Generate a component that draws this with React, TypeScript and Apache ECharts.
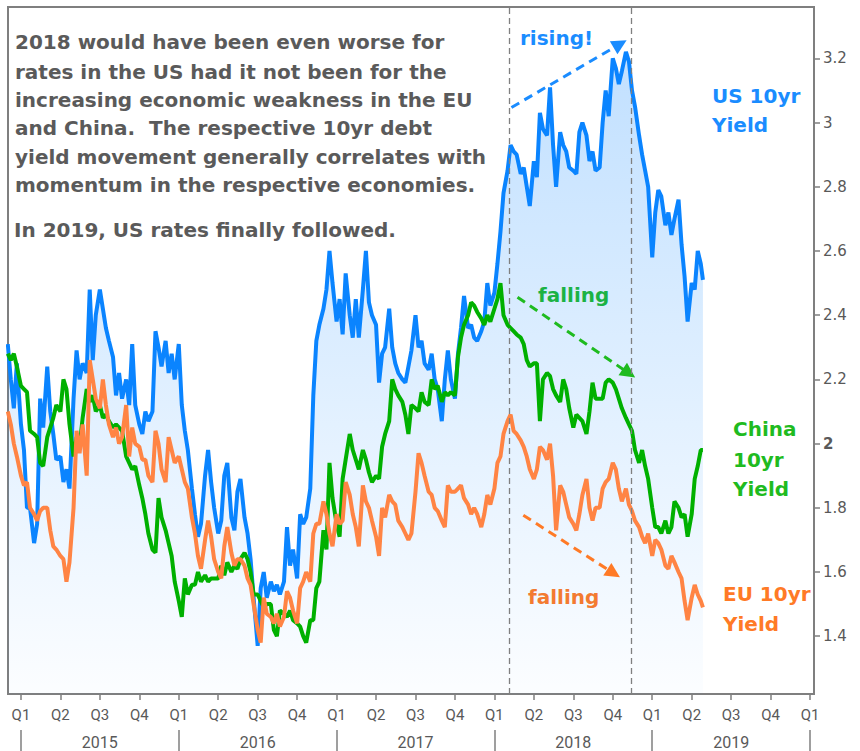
import React, { useEffect, useRef } from "react";
import * as echarts from "echarts";

// ---------- data ----------
// weekly observation dates (1st, 8th, 15th, 22nd of each month), Dec 2014 .. Apr 2019
const dates: string[] = (() => {
  const out: string[] = [];
  for (let y = 2014; y <= 2019; y++) {
    for (let m = 1; m <= 12; m++) {
      const key = y * 12 + m;
      if (key < 2014 * 12 + 12 || key > 2019 * 12 + 4) continue;
      const mm = String(m).padStart(2, "0");
      out.push(`${y}-${mm}-01`, `${y}-${mm}-08`, `${y}-${mm}-15`, `${y}-${mm}-22`);
    }
  }
  out.push("2019-04-27");
  return out;
})();

// one row per month (4 weekly readings)
const usYield = [
  2.31, 2.2, 2.11, 2.25, // Dec 14
  2.06, 1.98, 1.8, 1.8,
  1.69, 1.75, 2.14, 2.05,
  2.24, 2.1, 2.03, 1.95,
  1.96, 1.88, 1.92, 1.86,
  2.14, 2.29, 2.2, 2.25,
  2.22, 2.48, 2.26, 2.4,
  2.48, 2.42, 2.36, 2.32,
  2.27, 2.15, 2.22, 2.14,
  2.2, 2.12, 2.31, 2.12,
  2.06, 2.03, 2.1, 2.07,
  2.1, 2.35, 2.3, 2.24,
  2.32, 2.22, 2.28, 2.2, // Dec 15
  2.31, 2.12, 2.04, 1.98,
  1.86, 1.78, 1.71, 1.75,
  1.9, 1.98, 1.88, 1.8,
  1.72, 1.76, 1.9, 1.94,
  1.77, 1.73, 1.85, 1.89,
  1.77, 1.72, 1.64, 1.52,
  1.37, 1.55, 1.6, 1.52,
  1.57, 1.54, 1.56, 1.53,
  1.57, 1.74, 1.62, 1.67,
  1.58, 1.78, 1.75, 1.77,
  1.86, 2.15, 2.32, 2.37,
  2.42, 2.48, 2.6, 2.5, // Dec 16
  2.38, 2.45, 2.34, 2.53,
  2.4, 2.33, 2.45, 2.33,
  2.48, 2.6, 2.44, 2.4,
  2.37, 2.19, 2.28, 2.3,
  2.42, 2.3, 2.25, 2.22,
  2.2, 2.19, 2.24, 2.29,
  2.4, 2.3, 2.32, 2.25,
  2.23, 2.28, 2.2, 2.17,
  2.07, 2.2, 2.29, 2.2,
  2.14, 2.28, 2.36, 2.46,
  2.36, 2.37, 2.33, 2.32,
  2.35, 2.38, 2.5, 2.43, // Dec 17
  2.47, 2.56, 2.66, 2.78,
  2.85, 2.93, 2.91, 2.9,
  2.84, 2.86, 2.8, 2.74,
  2.88, 2.83, 3.03, 2.98,
  2.96, 3.11, 2.93, 2.8,
  2.97, 2.93, 2.91, 2.86,
  2.85, 2.84, 2.97, 3.0,
  2.96, 2.88, 2.91, 2.85,
  2.86, 3.0, 3.1, 3.02,
  3.2, 3.17, 3.12, 3.16,
  3.22, 3.19, 3.1, 3.05,
  2.96, 2.9, 2.85, 2.8, // Dec 18
  2.58, 2.72, 2.79, 2.77,
  2.68, 2.72, 2.65, 2.7,
  2.76, 2.62, 2.52, 2.38,
  2.5, 2.48, 2.6, 2.56,
  2.51,
];

const chinaYield = [
  2.28, 2.26, 2.28, 2.24, // Dec 14
  2.18, 2.17, 2.16, 2.04,
  2.03, 2.02, 1.94, 1.93,
  2.02, 2.05, 2.08, 2.12,
  2.1, 2.2, 2.17, 2.06,
  1.96, 2.02, 1.99, 2.08,
  2.17, 2.13, 2.15, 2.1,
  2.12, 2.08, 2.09, 2.07,
  2.05, 2.06, 2.05, 2.04,
  1.96, 1.94, 1.92, 1.93,
  1.87, 1.83, 1.78, 1.72,
  1.67, 1.66, 1.83, 1.77,
  1.73, 1.69, 1.65, 1.57, // Dec 15
  1.51, 1.46, 1.58, 1.53,
  1.56, 1.56, 1.6, 1.57,
  1.59, 1.57, 1.58, 1.58,
  1.58, 1.62, 1.59, 1.63,
  1.6, 1.62, 1.61, 1.64,
  1.66, 1.64, 1.6, 1.53,
  1.53, 1.51, 1.49, 1.5,
  1.5, 1.42, 1.4, 1.48,
  1.47, 1.46, 1.48, 1.45,
  1.44, 1.43, 1.4, 1.38,
  1.45, 1.45, 1.55, 1.57,
  1.73, 1.67, 1.94, 1.83, // Dec 16
  1.75, 1.71, 1.89, 1.95,
  2.03, 1.98, 1.95, 1.92,
  1.98, 1.95, 1.91, 1.88,
  1.9, 1.89, 1.99, 2.03,
  2.07, 2.2, 2.17, 2.15,
  2.13, 2.09, 2.03, 2.12,
  2.11, 2.1, 2.16, 2.13,
  2.12, 2.2, 2.17, 2.18,
  2.13, 2.16, 2.15, 2.16,
  2.15, 2.27, 2.33, 2.37,
  2.4, 2.44, 2.43, 2.41,
  2.39, 2.37, 2.4, 2.38, // Dec 17
  2.42, 2.45, 2.5, 2.4,
  2.37, 2.36, 2.35, 2.34,
  2.33, 2.31, 2.26, 2.24,
  2.25, 2.25, 2.07, 2.2,
  2.22, 2.21, 2.17, 2.15,
  2.13, 2.2, 2.17, 2.11,
  2.05, 2.09, 2.08, 2.07,
  2.03, 2.1, 2.19, 2.14,
  2.14, 2.14, 2.19, 2.2,
  2.19, 2.17, 2.14, 2.11,
  2.08, 2.06, 2.04, 1.98,
  1.94, 1.98, 1.93, 1.89, // Dec 18
  1.8, 1.74, 1.74, 1.72,
  1.76, 1.72, 1.74, 1.82,
  1.8, 1.77, 1.78, 1.71,
  1.78, 1.89, 1.93, 1.98,
  1.98,
];

const euYield = [
  2.1, 2.06, 2.0, 1.96, // Dec 14
  1.9, 1.87, 1.88, 1.8,
  1.78, 1.76, 1.79, 1.8,
  1.8, 1.73, 1.68, 1.67,
  1.65, 1.64, 1.57, 1.63,
  1.8, 2.04, 1.97, 2.06,
  1.9, 2.26, 2.2, 2.14,
  2.11, 2.2, 2.12, 2.06,
  2.02, 2.05, 2.0, 2.02,
  2.12, 1.96, 2.05, 2.0,
  1.99, 1.95, 1.95, 1.9,
  1.88, 2.04, 2.0, 1.92,
  1.88, 2.02, 1.98, 1.94, // Dec 15
  1.96, 1.92, 1.88, 1.86,
  1.77, 1.72, 1.65, 1.61,
  1.7, 1.76, 1.71, 1.64,
  1.6, 1.58, 1.68, 1.74,
  1.66, 1.62, 1.64, 1.64,
  1.62, 1.58, 1.56, 1.5,
  1.42, 1.38, 1.52, 1.47,
  1.46, 1.44, 1.47, 1.43,
  1.46, 1.54, 1.52, 1.48,
  1.44, 1.55, 1.57, 1.6,
  1.57, 1.72, 1.75, 1.75,
  1.82, 1.78, 1.72, 1.68, // Dec 16
  1.78, 1.75, 1.76, 1.88,
  1.84, 1.78, 1.74, 1.68,
  1.87, 1.82, 1.8, 1.76,
  1.71, 1.65, 1.8, 1.77,
  1.84, 1.82, 1.81, 1.76,
  1.74, 1.72, 1.7, 1.72,
  1.85, 1.97, 1.94, 1.9,
  1.85, 1.84, 1.8, 1.79,
  1.76, 1.74, 1.87, 1.85,
  1.85, 1.86, 1.87, 1.83,
  1.81, 1.78, 1.8, 1.78,
  1.74, 1.78, 1.84, 1.81, // Dec 17
  1.86, 1.94, 1.96, 2.03,
  2.07, 2.09, 2.04, 2.03,
  2.01, 1.99, 1.96, 1.92,
  1.89, 1.92, 1.99, 1.98,
  1.95, 2.0, 1.9, 1.73,
  1.87, 1.85, 1.81, 1.77,
  1.75, 1.73, 1.78, 1.84,
  1.89, 1.8, 1.76, 1.8,
  1.8, 1.86, 1.88, 1.89,
  1.94, 1.92, 1.86, 1.82,
  1.86, 1.81, 1.79, 1.76,
  1.74, 1.71, 1.69, 1.72, // Dec 18
  1.65, 1.7, 1.69, 1.67,
  1.62, 1.61, 1.65, 1.63,
  1.6, 1.58, 1.51, 1.45,
  1.52, 1.56, 1.53, 1.51,
  1.49,
];

const quarterLabels = ["Q1", "Q2", "Q3", "Q4"];
const years = [2015, 2016, 2017, 2018, 2019];
const yTicks = [1.4, 1.6, 1.8, 2, 2.2, 2.4, 2.6, 2.8, 3, 3.2];

// highlighted window (dashed vertical lines)
const windowDates = ["2018-02-04", "2018-11-14"];

// annotation arrows [start date, start value, end date, end value]
const risingArrow = ["2018-02-10", 3.047, "2018-10-18", 3.245] as const;
const chinaArrow = ["2018-02-24", 2.456, "2018-11-08", 2.219] as const;
const euArrow = ["2018-03-07", 1.777, "2018-10-03", 1.596] as const;

const noteLines = [
  "2018 would have been even worse for",
  "rates in the US had it not been for the",
  "increasing economic weakness in the EU",
  "and China.  The respective 10yr debt",
  "yield movement generally correlates with",
  "momentum in the respective economies.",
  "In 2019, US rates finally followed.",
];

// ---------- helpers ----------
const toX = (s: string) => {
  const [y, m, d] = s.split("-").map(Number);
  return y + (m - 1) / 12 + (d - 1) / 365;
};

const X_MIN = 2014.918;
const X_MAX = 2020.025;
const Y_MIN = 1.22;
const Y_MAX = 3.36;

const BLUE = "#0a84ff";
const BLUE_TXT = "#1a8cff";
const GREEN = "#00b000";
const GREEN_TXT = "#1fbb1f";
const ORANGE = "#ff8444";
const ORANGE_TXT = "#ff7a26";
const GRAY = "#595959";
const AXIS = "#7f7f7f";

export default function App() {
  const ref = useRef<HTMLDivElement>(null);

  useEffect(() => {
    if (!ref.current) return;
    const chart = echarts.init(ref.current, undefined, { renderer: "svg" });

    const qTicks: number[] = [];
    for (let y = years[0]; y <= years[years.length - 1] + 1; y++) {
      for (let q = 0; q < 4; q++) {
        const v = y + q * 0.25;
        if (v <= years[years.length - 1] + 1) qTicks.push(v);
      }
    }
    const yearBounds = [...years, years[years.length - 1] + 1];
    const yearMids = years.map((y) => y + 0.5);

    const mk = (arr: number[]) => dates.map((d, i) => [toX(d), arr[i]]);

    const arrowLine = (a: readonly [string, number, string, number], color: string) => ({
      silent: true,
      symbol: ["none", "triangle"],
      symbolSize: [15, 15],
      label: { show: false },
      lineStyle: { color, type: [9, 6], width: 3, opacity: 1 },
      emphasis: { disabled: true },
      data: [[{ coord: [toX(a[0]), a[1]] }, { coord: [toX(a[2]), a[3]] }]],
    });

    const text = (t: string, x: number, y: number, color: string, size = 20) => ({
      type: "text",
      x,
      y,
      silent: true,
      style: {
        text: t,
        fill: color,
        font: `bold ${size}px "DejaVu Sans"`,
        align: "left",
        verticalAlign: "middle",
      },
    });

    const noteY = [42, 72, 100, 128, 157, 185, 230];

    const option: any = {
      animation: false,
      backgroundColor: "#ffffff",
      grid: {
        left: 8,
        right: 46,
        top: 7,
        bottom: 57,
        show: true,
        borderColor: AXIS,
        borderWidth: 2,
        backgroundColor: "#ffffff",
      },
      xAxis: [
        {
          type: "value",
          min: X_MIN,
          max: X_MAX,
          position: "bottom",
          axisLine: { show: true, lineStyle: { color: AXIS, width: 2 } },
          axisTick: {
            show: true,
            customValues: qTicks,
            length: 6,
            lineStyle: { color: AXIS, width: 1.5 },
          },
          axisLabel: {
            customValues: qTicks,
            formatter: (v: number) => quarterLabels[Math.round(v * 4) % 4],
            color: GRAY,
            fontFamily: "Roboto",
            fontSize: 15,
            margin: 13,
          },
          splitLine: { show: false },
        },
        {
          type: "value",
          min: X_MIN,
          max: X_MAX,
          position: "bottom",
          offset: 36,
          axisLine: { show: false },
          axisTick: {
            show: true,
            customValues: yearBounds,
            length: 21,
            lineStyle: { color: AXIS, width: 1.5 },
          },
          axisLabel: {
            customValues: yearMids,
            formatter: (v: number) => String(Math.floor(v)),
            color: GRAY,
            fontFamily: "Roboto",
            fontSize: 16,
            margin: 4,
          },
          splitLine: { show: false },
        },
      ],
      yAxis: {
        type: "value",
        position: "right",
        min: Y_MIN,
        max: Y_MAX,
        axisLine: { show: true, lineStyle: { color: AXIS, width: 2 } },
        axisTick: {
          show: true,
          customValues: yTicks,
          length: 6,
          lineStyle: { color: AXIS, width: 1.5 },
        },
        axisLabel: {
          customValues: yTicks,
          formatter: (v: number) =>
            Math.abs(v - 2) < 1e-9 ? "{b|2}" : String(Math.round(v * 10) / 10),
          color: GRAY,
          fontFamily: "DejaVu Sans",
          fontSize: 15,
          margin: 9,
          rich: {
            b: { fontWeight: "bold", color: GRAY, fontFamily: "DejaVu Sans", fontSize: 15 },
          },
        },
        splitLine: { show: false },
      },
      series: [
        {
          name: "US 10yr Yield",
          type: "line",
          data: mk(usYield),
          showSymbol: false,
          symbol: "none",
          lineStyle: { color: BLUE, width: 4 },
          itemStyle: { color: BLUE },
          areaStyle: {
            origin: "start",
            color: new echarts.graphic.LinearGradient(0, 0, 0, 1, [
              { offset: 0, color: "rgba(10,132,255,0.36)" },
              { offset: 1, color: "rgba(10,132,255,0.02)" },
            ]),
          },
          markLine: arrowLine(risingArrow, BLUE_TXT),
          z: 2,
        },
        {
          name: "China 10yr Yield",
          type: "line",
          data: mk(chinaYield),
          showSymbol: false,
          symbol: "none",
          lineStyle: { color: GREEN, width: 4 },
          itemStyle: { color: GREEN },
          markLine: arrowLine(chinaArrow, GREEN_TXT),
          z: 3,
        },
        {
          name: "EU 10yr Yield",
          type: "line",
          data: mk(euYield),
          showSymbol: false,
          symbol: "none",
          lineStyle: { color: ORANGE, width: 4 },
          itemStyle: { color: ORANGE },
          markLine: arrowLine(euArrow, ORANGE_TXT),
          z: 4,
        },
        {
          name: "window",
          type: "line",
          data: [],
          markLine: {
            silent: true,
            symbol: ["none", "none"],
            label: { show: false },
            lineStyle: { color: "#808080", type: [6, 4], width: 1.3 },
            data: windowDates.map((d) => [
              { coord: [toX(d), Y_MIN] },
              { coord: [toX(d), Y_MAX] },
            ]),
          },
          z: 5,
        },
      ],
      graphic: [
        ...noteLines.map((t, k) => text(t, k === 6 ? 14 : 15, noteY[k], "#5a5a5a")),
        text("rising!", 520, 38, BLUE_TXT),
        text("US 10yr", 712, 96, BLUE_TXT),
        text("Yield", 712, 125, BLUE_TXT),
        text("falling", 538, 295, GREEN_TXT),
        text("China", 733, 429, GREEN_TXT),
        text("10yr", 733, 460, GREEN_TXT),
        text("Yield", 733, 489, GREEN_TXT),
        text("falling", 528, 597, ORANGE_TXT),
        text("EU 10yr", 723, 594, ORANGE_TXT),
        text("Yield", 723, 624, ORANGE_TXT),
      ],
    };

    chart.setOption(option);
    return () => chart.dispose();
  }, []);

  return (
    <div
      ref={ref}
      style={{ position: "absolute", left: 0, top: 0, width: 860, height: 751 }}
    />
  );
}
